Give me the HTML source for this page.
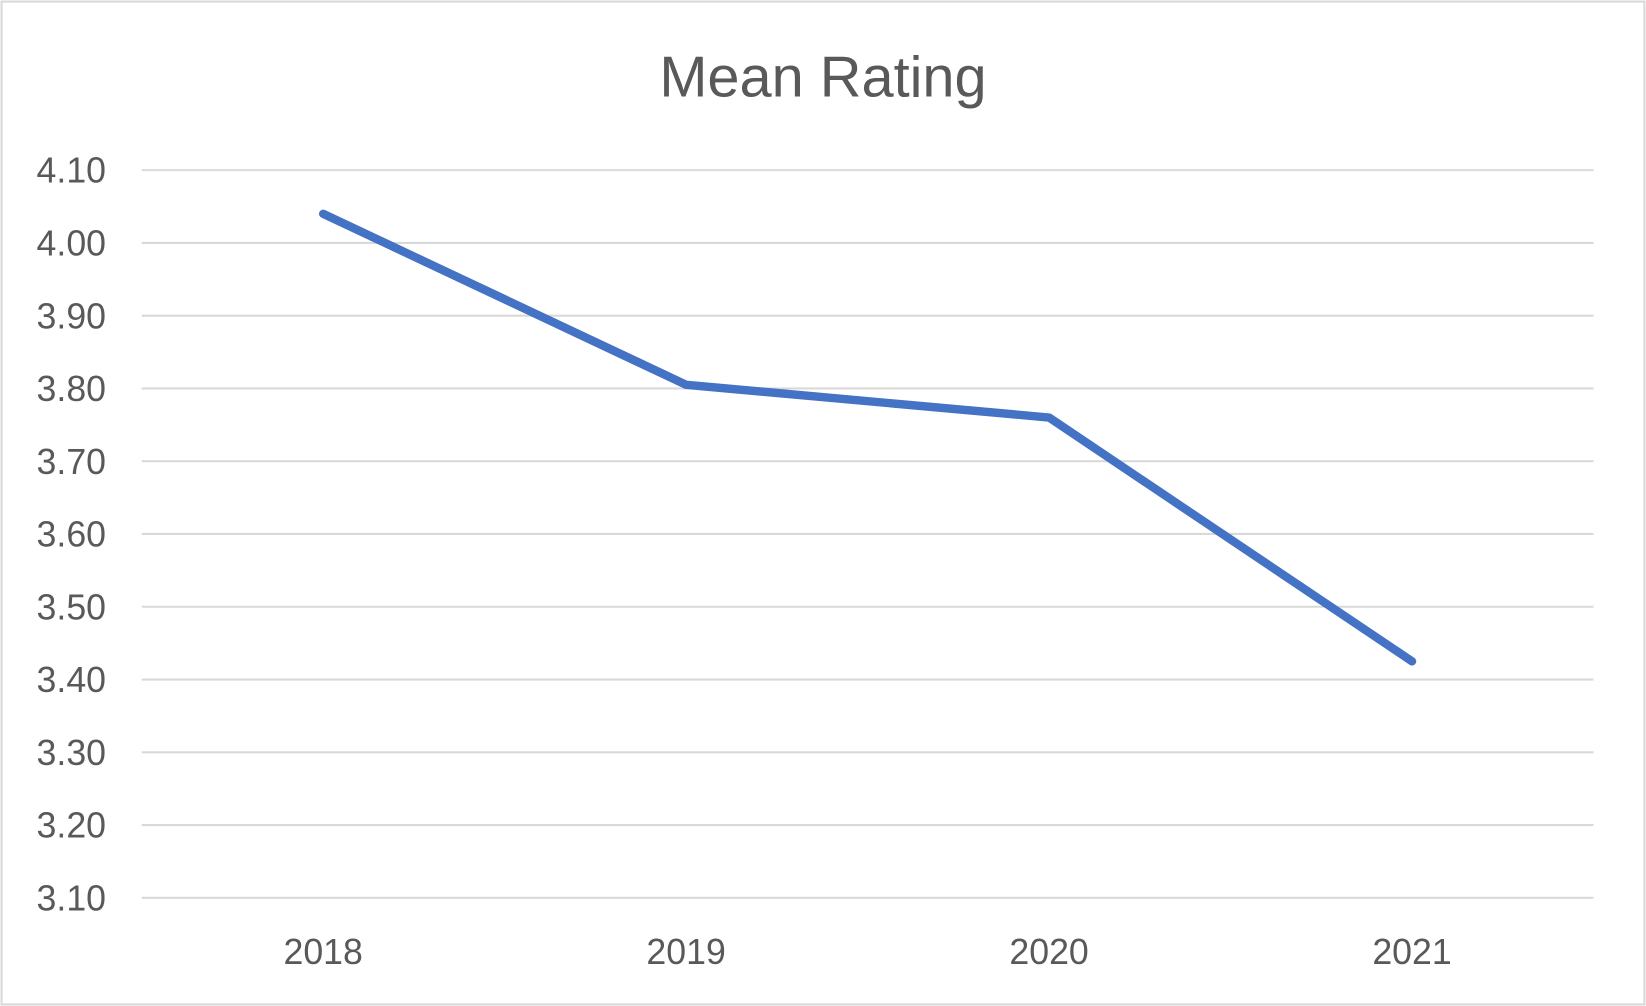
<!DOCTYPE html>
<html><head><meta charset="utf-8"><style>
html,body{margin:0;padding:0;background:#fff;}
svg{display:block;font-family:"Liberation Sans",sans-serif;}
</style></head><body>
<svg width="1646" height="1006" viewBox="0 0 1568 958" preserveAspectRatio="none" xmlns="http://www.w3.org/2000/svg">
<rect x="1.5" y="1.5" width="1565" height="955" fill="#fff" stroke="#d9d9d9" stroke-width="2"/>
<text x="784" y="92" text-anchor="middle" font-size="55" fill="#595959">Mean Rating</text>
<g id="grid"></g>
<g id="yl"></g>
<g id="xl"></g>
<polyline id="line" fill="none" stroke="#4472C4" stroke-width="8" stroke-linecap="round" stroke-linejoin="round"/>
</svg>
<script>
const categories = ["2018","2019","2020","2021"];
const values = [4.04, 3.805, 3.76, 3.425];
const yTicks = [3.10,3.20,3.30,3.40,3.50,3.60,3.70,3.80,3.90,4.00,4.10];
const NS="http://www.w3.org/2000/svg";
const x0=135,x1=1518,yTop=162,yBot=855,vMin=3.1,vMax=4.1;
const y=v=>yBot-(v-vMin)/(vMax-vMin)*(yBot-yTop);
const step=(x1-x0)/categories.length;
const x=i=>x0+step*(i+0.5);
const grid=document.getElementById('grid'),yl=document.getElementById('yl'),xl=document.getElementById('xl');
yTicks.forEach(t=>{
  const l=document.createElementNS(NS,'line');
  
  
  l.setAttribute('x1',x0);l.setAttribute('x2',x1);l.setAttribute('y1',y(t));l.setAttribute('y2',y(t));
  l.setAttribute('stroke','#d9d9d9');l.setAttribute('stroke-width','2');
  grid.appendChild(l);
  const tx=document.createElementNS(NS,'text');
  
  
  tx.setAttribute('x',101);tx.setAttribute('y',y(t)+12);
  tx.setAttribute('text-anchor','end');tx.setAttribute('font-size','34');tx.setAttribute('fill','#595959');
  tx.textContent=t.toFixed(2);
  yl.appendChild(tx);
});
categories.forEach((c,i)=>{
  const tx=document.createElementNS(NS,'text');
  
  
  tx.setAttribute('x',x(i));tx.setAttribute('y',918);
  tx.setAttribute('text-anchor','middle');tx.setAttribute('font-size','34');tx.setAttribute('fill','#595959');
  tx.textContent=c;
  xl.appendChild(tx);
});
document.getElementById('line').setAttribute('points',values.map((v,i)=>x(i)+','+y(v)).join(' '));
</script>
</body></html>
